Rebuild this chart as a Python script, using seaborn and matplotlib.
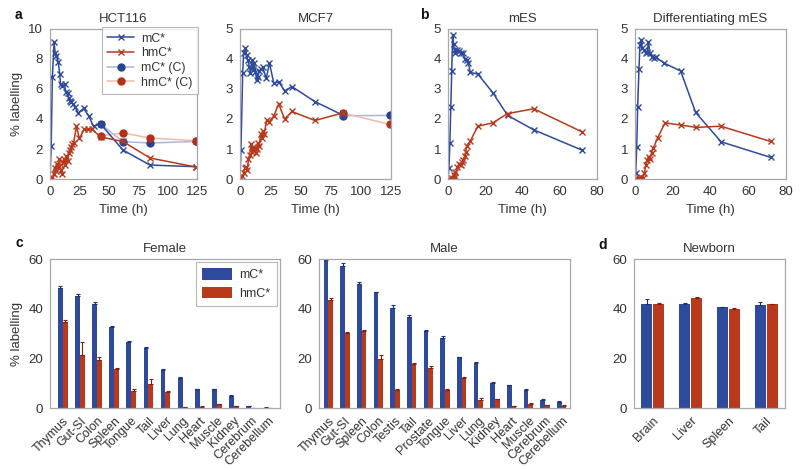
import numpy as np
import pandas as pd
import seaborn as sns
import matplotlib.pyplot as plt

# ---- data: time courses (panel a, b) ----
hct_mc_t = [0, 1, 2, 3.5, 4.4, 5.5, 7, 8.3, 9, 10.5, 12.4, 13.3, 15, 16, 17, 18, 19.7, 21.5, 23.7, 28.6,
            33, 37, 43, 62, 85, 124]
hct_mc = [0, 2.2, 6.8, 9.1, 8.4, 8.2, 7.8, 7.0, 6.3, 6.2, 6.3, 5.8, 5.7, 5.4, 5.2, 5.1, 5.0, 4.8, 4.4, 4.7,
          4.2, 3.5, 3.67, 1.93, 0.93, 0.82]
hct_hmc_t = [0, 2, 3, 4, 5, 6, 7, 8, 9, 10, 11, 12, 13, 14, 15, 16, 17, 18, 19, 20, 22.5, 25, 29, 32.5, 36,
             43, 62, 85, 124]
hct_hmc = [0, 0.1, 0.3, 0.7, 0.5, 1.0, 0.8, 1.3, 0.6, 0.3, 1.1, 1.3, 0.9, 1.5, 1.2, 1.7, 1.9, 2.1, 2.3, 2.4,
           3.5, 2.7, 3.3, 3.3, 3.3, 2.8, 2.5, 1.4, 0.8]
hct_ctrl_t = [43, 62, 85, 124]
hct_mc_ctrl = [3.67, 2.49, 2.4, 2.5]
hct_hmc_ctrl = [2.87, 3.07, 2.73, 2.55]

mcf_mc_t = [0, 0.8, 2.2, 3, 4.4, 5.5, 6.3, 7.8, 8.6, 9.7, 10.8, 12, 12.8, 13.8, 14.7, 16, 17.4, 18.8, 21.7,
            24.4, 28, 32, 37, 43, 62, 85]
mcf_mc = [0, 0.97, 3.52, 4.19, 4.36, 4.13, 3.97, 3.74, 3.52, 3.97, 3.63, 3.86, 3.58, 3.3, 3.4, 3.6, 3.67,
          3.72, 3.36, 3.86, 3.19, 3.24, 2.94, 3.08, 2.58, 2.13]
mcf_hmc_t = [0, 2, 3, 4, 5, 6, 7, 8, 9, 10, 11, 12, 13, 14, 15, 16, 17, 18, 19, 20, 22, 24, 28, 32, 37, 43,
             62, 85]
mcf_hmc = [0, 0.1, 0.2, 0.35, 0.4, 0.3, 0.65, 0.8, 1.15, 0.9, 1.05, 1.0, 0.85, 1.0, 1.2, 1.1, 1.5, 1.35,
           1.6, 1.5, 1.95, 1.9, 2.1, 2.5, 2.0, 2.25, 1.95, 2.2]
mcf_ctrl_t = [85, 124]
mcf_mc_ctrl = [2.11, 2.12]
mcf_hmc_ctrl = [2.2, 1.82]

mes_mc_t = [0, 0.5, 1, 1.5, 2, 2.5, 3, 3.5, 4, 5, 6, 7, 8, 9, 10, 11, 12, 16, 24, 32, 46, 72]
mes_mc = [0, 0.35, 1.2, 2.4, 3.6, 4.8, 4.5, 4.3, 4.2, 4.3, 4.25, 4.2, 4.2, 4.0, 3.95, 3.85, 3.55, 3.5,
          2.88, 2.12, 1.64, 0.96]
mes_hmc_t = [0, 1, 2, 3, 3.5, 4, 5, 6, 7, 7.5, 8, 9, 9.5, 10, 12, 16, 24, 32, 46, 72]
mes_hmc = [0, 0, 0.02, 0.13, 0.23, 0.05, 0.4, 0.5, 0.48, 0.55, 0.63, 0.76, 0.9, 1.1, 1.27, 1.76, 1.87,
           2.18, 2.34, 1.57]

dmes_mc_t = [0, 0.4, 0.9, 1.4, 2.1, 2.6, 3.2, 3.9, 4.8, 5.6, 6.5, 7.1, 7.9, 9.2, 10.2, 11.1, 15.5, 24.2,
             32.1, 45.6, 71.9]
dmes_mc = [0, 0.2, 1.06, 2.39, 3.66, 4.45, 4.63, 4.35, 4.3, 4.19, 4.24, 4.58, 4.19, 4.08, 4.02, 4.05,
           3.86, 3.6, 2.22, 1.24, 0.72]
dmes_hmc_t = [0, 1, 2, 3, 4, 4.9, 5.8, 6.5, 7.2, 7.9, 8.8, 9.7, 12, 15.9, 24.2, 32.3, 45.5, 71.9]
dmes_hmc = [0, 0, 0.03, 0.05, 0.04, 0.19, 0.47, 0.63, 0.74, 0.68, 0.87, 1.03, 1.37, 1.87, 1.8, 1.72,
            1.76, 1.25]

# ---- data: tissues (panel c, d) ----
female_tissues = ["Thymus", "Gut-SI", "Colon", "Spleen", "Tongue", "Tail", "Liver", "Lung", "Heart",
                  "Muscle", "Kidney", "Cerebrum", "Cerebellum"]
female_mc = [48.5, 45, 42, 32.5, 26.5, 24, 15.5, 12, 7.5, 7.5, 4.8, 0.8, 0.2]
female_mc_err = [0.6, 0.8, 0.8, 0.6, 0.5, 0.5, 0.4, 0.3, 0.3, 0.3, 0.3, 0.1, 0.1]
female_hmc = [34.5, 21.5, 19.5, 15.7, 7, 9.5, 6.5, 0.3, 0.6, 1.5, 0.7, 0.1, 0.1]
female_hmc_err = [0.8, 5, 1.0, 0.4, 0.6, 2, 0.3, 0.1, 0.2, 0.2, 0.2, 0.05, 0.05]

male_tissues = ["Thymus", "Gut-SI", "Spleen", "Colon", "Testis", "Tail", "Prostate", "Tongue", "Liver",
                "Lung", "Kidney", "Heart", "Muscle", "Cerebrum", "Cerebellum"]
male_mc = [59.5, 57.3, 50, 46.6, 40.4, 36.7, 31.2, 28.1, 20.4, 18.2, 10.2, 9.2, 7.4, 3.3, 2.5]
male_mc_err = [0.5, 1.0, 0.8, 0.3, 1.0, 0.6, 0.3, 0.8, 0.3, 0.3, 0.2, 0.2, 0.2, 0.2, 0.2]
male_hmc = [43.5, 30.4, 31.2, 19.8, 7.4, 17.7, 16.3, 7.1, 12, 3.1, 3.6, 0.8, 1.7, 1.2, 0.9]
male_hmc_err = [0.8, 0.3, 0.2, 1.5, 0.3, 0.6, 0.8, 0.5, 0.5, 1.0, 0.2, 0.2, 0.3, 0.2, 0.2]

newborn_tissues = ["Brain", "Liver", "Spleen", "Tail"]
newborn_mc = [42, 42, 40.5, 41.5]
newborn_mc_err = [2.0, 0.2, 0.2, 1.3]
newborn_hmc = [42, 44.2, 39.8, 41.8]
newborn_hmc_err = [0.3, 0.4, 0.3, 0.2]

BLUE = "#2d4a9c"
RED = "#b8391c"
LBLUE = "#aab8d8"
PINK = "#f2b9a9"
CTRL_BLUE = "#27438f"
CTRL_RED = "#b0301a"
GRID = "#a8a8a8"
TXT = "#333333"

sns.set_theme(style="white")
plt.rcParams["font.family"] = ["Liberation Sans", "DejaVu Sans"]
plt.rcParams["font.size"] = 8.5
plt.rcParams["text.color"] = TXT
plt.rcParams["axes.labelcolor"] = TXT
plt.rcParams["xtick.color"] = TXT
plt.rcParams["ytick.color"] = TXT

fig = plt.figure(figsize=(8, 4.69), dpi=100)
W, H = 800, 469


def make_ax(left, right, top, bottom):
    return fig.add_axes([left / W, 1 - bottom / H, (right - left) / W, (bottom - top) / H])


def style_ax(ax):
    for s in ax.spines.values():
        s.set_color(GRID)
        s.set_linewidth(0.9)
    ax.tick_params(axis="both", direction="out", length=3, width=0.8, color=GRID,
                   labelsize=9.5, pad=2)


def line(ax, t, v, color, label, marker="x", lw=1.1, ms=4.5):
    sns.lineplot(x=t, y=v, ax=ax, color=color, marker=marker, markersize=ms,
                 markeredgecolor=color, markeredgewidth=1.0, linewidth=lw,
                 label=label, estimator=None, sort=False)


# ---- panel a ----
ax1 = make_ax(50, 197, 29, 179)
line(ax1, hct_ctrl_t, hct_mc_ctrl, LBLUE, "mC* (C)")
line(ax1, hct_ctrl_t, hct_hmc_ctrl, PINK, "hmC* (C)")
for l, c in zip(ax1.lines, [CTRL_BLUE, CTRL_RED]):
    l.set_marker("o")
    l.set_markerfacecolor(c)
    l.set_markeredgecolor(c)
    l.set_markersize(5)
line(ax1, hct_mc_t, hct_mc, BLUE, "mC*")
line(ax1, hct_hmc_t, hct_hmc, RED, "hmC*")
ax1.set_xlim(0, 125)
ax1.set_ylim(0, 10)
ax1.set_xticks([0, 25, 50, 75, 100, 125])
ax1.set_yticks([0, 2, 4, 6, 8, 10])
ax1.set_xlabel("Time (h)", fontsize=9.5)
ax1.set_ylabel("% labelling", fontsize=9.5)
ax1.set_title("HCT116", fontsize=9.5, pad=5)
handles, labels = ax1.get_legend_handles_labels()
order = [labels.index(k) for k in ["mC*", "hmC*", "mC* (C)", "hmC* (C)"]]
leg = ax1.legend([handles[i] for i in order], [labels[i] for i in order], loc="upper right",
                 fontsize=8.8, frameon=True, fancybox=False, edgecolor=GRID, borderpad=0.45,
                 handlelength=2.2, handletextpad=0.6, labelspacing=0.22,
                 bbox_to_anchor=(1.008, 1.013), borderaxespad=0)
leg.get_frame().set_linewidth(0.8)
style_ax(ax1)

ax2 = make_ax(240, 391, 29, 179)
line(ax2, mcf_ctrl_t, mcf_mc_ctrl, LBLUE, "mC* (C)")
line(ax2, mcf_ctrl_t, mcf_hmc_ctrl, PINK, "hmC* (C)")
for l, c in zip(ax2.lines, [CTRL_BLUE, CTRL_RED]):
    l.set_marker("o")
    l.set_markerfacecolor(c)
    l.set_markeredgecolor(c)
    l.set_markersize(5)
line(ax2, mcf_mc_t, mcf_mc, BLUE, "mC*")
line(ax2, mcf_hmc_t, mcf_hmc, RED, "hmC*")
ax2.get_legend().remove()
ax2.set_xlim(0, 125)
ax2.set_ylim(0, 5)
ax2.set_xticks([0, 25, 50, 75, 100, 125])
ax2.set_yticks([0, 1, 2, 3, 4, 5])
ax2.set_xlabel("Time (h)", fontsize=9.5)
ax2.set_title("MCF7", fontsize=9.5, pad=5)
style_ax(ax2)

# ---- panel b ----
for (left, right, title, mt, mv, ht, hv) in [
        (448, 597, "mES", mes_mc_t, mes_mc, mes_hmc_t, mes_hmc),
        (635, 786, "Differentiating mES", dmes_mc_t, dmes_mc, dmes_hmc_t, dmes_hmc)]:
    ax = make_ax(left, right, 29, 179)
    line(ax, mt, mv, BLUE, "mC*")
    line(ax, ht, hv, RED, "hmC*")
    ax.get_legend().remove()
    ax.set_xlim(0, 80)
    ax.set_ylim(0, 5)
    ax.set_xticks([0, 20, 40, 60, 80])
    ax.set_yticks([0, 1, 2, 3, 4, 5])
    ax.set_xlabel("Time (h)", fontsize=9.5)
    ax.set_title(title, fontsize=9.5, pad=5)
    style_ax(ax)


# ---- panels c, d ----
def bars(ax, tissues, mc, mc_err, hmc, hmc_err, width, gap=0.0):
    df = pd.DataFrame({
        "tissue": tissues * 2,
        "type": ["mC*"] * len(tissues) + ["hmC*"] * len(tissues),
        "value": list(mc) + list(hmc),
    })
    sns.barplot(data=df, x="tissue", y="value", hue="type", palette=[BLUE, RED],
                width=width, gap=gap, errorbar=None, saturation=1, linewidth=0, ax=ax)
    for cont, errs, c in zip(ax.containers, [mc_err, hmc_err], ["#1d3270", "#7a2410"]):
        xs = [p.get_x() + p.get_width() / 2 for p in cont.patches]
        ys = [p.get_height() for p in cont.patches]
        ax.errorbar(xs, ys, yerr=[np.zeros(len(errs)), errs], fmt="none", ecolor=c,
                    elinewidth=0.8, capsize=1.2, capthick=0.8)
    ax.set_ylim(0, 60)
    ax.set_yticks([0, 20, 40, 60])
    ax.set_xlabel("")
    ax.set_ylabel("")
    ax.set_xlim(-0.75, len(tissues) - 0.3)
    style_ax(ax)
    plt.setp(ax.get_xticklabels(), rotation=45, ha="right", rotation_mode="anchor", fontsize=9)


axf = make_ax(50, 280, 259, 408)
bars(axf, female_tissues, female_mc, female_mc_err, female_hmc, female_hmc_err, 0.56)
axf.set_ylabel("% labelling", fontsize=9.5)
axf.set_title("Female", fontsize=9.5, pad=5)
lg = axf.legend(loc="upper right", fontsize=9, frameon=True, fancybox=False, edgecolor=GRID,
                handlelength=2.4, handleheight=1.0, labelspacing=0.45, borderpad=0.5,
                handletextpad=0.6, borderaxespad=0.25)
lg.get_frame().set_linewidth(0.8)

axm = make_ax(319, 570, 259, 408)
bars(axm, male_tissues, male_mc, male_mc_err, male_hmc, male_hmc_err, 0.56)
axm.get_legend().remove()
axm.set_xlim(-0.55, len(male_tissues) - 0.5)
axm.set_title("Male", fontsize=9.5, pad=5)

axn = make_ax(634, 785, 259, 408)
bars(axn, newborn_tissues, newborn_mc, newborn_mc_err, newborn_hmc, newborn_hmc_err, 0.64, gap=0.1)
axn.get_legend().remove()
axn.set_xlim(-0.5, len(newborn_tissues) - 0.5)
axn.set_title("Newborn", fontsize=9.5, pad=5)

# panel letters
for lbl, x, y in [("a", 15, 15), ("b", 420, 15), ("c", 16, 243), ("d", 598, 245)]:
    fig.text(x / W, 1 - y / H, lbl, fontsize=10, fontweight="bold", color="#111111",
             ha="left", va="center")

fig.savefig("out.png", dpi=100, facecolor="white")
